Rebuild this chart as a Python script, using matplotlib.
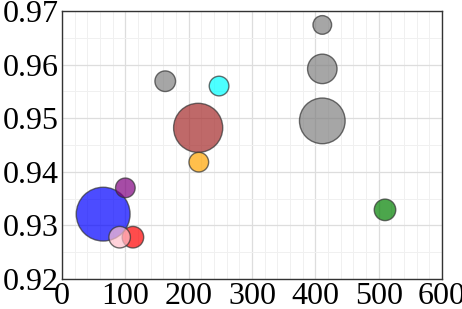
import matplotlib
matplotlib.use("Agg")
import matplotlib.pyplot as plt
from matplotlib.ticker import AutoMinorLocator, FixedLocator, FormatStrFormatter

plt.rcParams['font.family'] = ['Liberation Serif', 'DejaVu Serif']

xs = [65, 100, 112, 91, 163, 248, 215, 216, 411, 411, 411, 510]
ys = [0.9321, 0.9370, 0.9278, 0.9278, 0.9569, 0.9560, 0.9482, 0.9418, 0.9674, 0.9592, 0.9495, 0.9329]
sizes = [1500, 200, 240, 240, 220, 200, 1250, 200, 180, 450, 1080, 240]
colors = ['blue', 'purple', 'red', 'pink', 'gray', 'cyan', 'brown', 'orange',
          'gray', 'gray', 'gray', 'green']
xticks = [0, 100, 200, 300, 400, 500, 600]
yticks = [0.92, 0.93, 0.94, 0.95, 0.96, 0.97]

fig = plt.figure(figsize=(4.62, 3.09), dpi=100)
ax = fig.add_axes([62/462, 1-279/309, 380/462, 268/309])
ax.scatter(xs, ys, s=sizes, c=colors, alpha=0.7, edgecolors='#333333', linewidths=1.0, zorder=3)

ax.set_xlim(0, 600)
ax.set_ylim(0.92, 0.97)
ax.xaxis.set_major_locator(FixedLocator(xticks))
ax.yaxis.set_major_locator(FixedLocator(yticks))
ax.yaxis.set_major_formatter(FormatStrFormatter('%.2f'))
ax.xaxis.set_minor_locator(AutoMinorLocator(5))
ax.yaxis.set_minor_locator(AutoMinorLocator(2))
ax.grid(which='major', color='#dddddd', linewidth=0.9, zorder=0)
ax.grid(which='minor', color='#f0f0f0', linewidth=0.7, zorder=0)
ax.set_axisbelow(True)
ax.tick_params(which='both', length=0, labelsize=23, pad=2)
for sp in ax.spines.values():
    sp.set_color('#333333')
    sp.set_linewidth(1.0)

fig.savefig('out.png', dpi=100)
